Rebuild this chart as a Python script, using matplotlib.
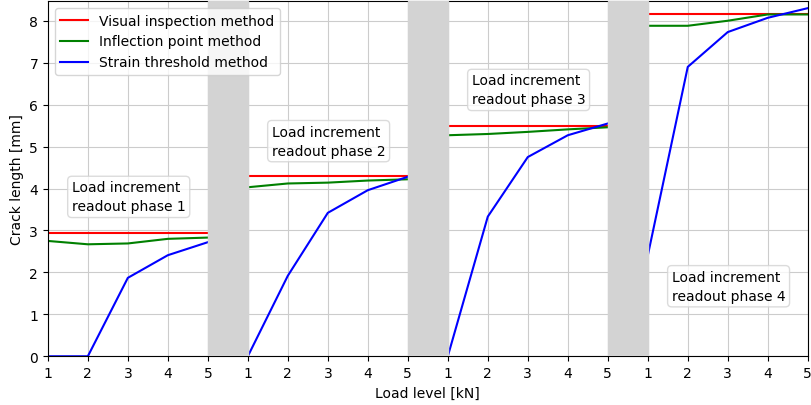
import numpy as np
import matplotlib.pyplot as plt

load_levels = [1, 2, 3, 4, 5]
phases = [1, 2, 3, 4]

# crack length per phase [mm]
visual = [2.93, 4.30, 5.49, 8.17]
inflection = [
    [2.75, 2.67, 2.69, 2.80, 2.83],
    [4.03, 4.12, 4.14, 4.19, 4.22],
    [5.27, 5.30, 5.35, 5.41, 5.46],
    [7.88, 7.88, 8.00, 8.15, 8.15],
]
strain = [
    [0.00, 0.00, 1.87, 2.41, 2.72],
    [0.00, 1.92, 3.42, 3.96, 4.28],
    [0.00, 3.33, 4.75, 5.27, 5.55],
    [2.40, 6.90, 7.73, 8.07, 8.30],
]
label_y = [3.8, 5.13, 6.35, 1.67]

fig, ax = plt.subplots(figsize=(8.11, 4.06), dpi=100)
fig.subplots_adjust(left=0.059, right=0.996, top=0.995, bottom=0.12)

n = len(load_levels)
ticks = []
ticklabels = []
for i, ph in enumerate(phases):
    x = np.arange(n) + i * n
    ax.plot([x[0], x[-1]], [visual[i], visual[i]], color='red',
            label='Visual inspection method' if i == 0 else None)
    ax.plot(x, inflection[i], color='green',
            label='Inflection point method' if i == 0 else None)
    ax.plot(x, strain[i], color='blue',
            label='Strain threshold method' if i == 0 else None)
    if i < len(phases) - 1:
        ax.axvspan(x[-1], x[-1] + 1, color='lightgray', zorder=3)
    ax.text(x[0] + 0.6, label_y[i], 'Load increment\nreadout phase %d' % ph,
            fontsize=10, va='center', ha='left', zorder=4, linespacing=1.45,
            bbox=dict(boxstyle='round', facecolor='white', edgecolor='lightgray', alpha=0.8))
    ticks += list(x)
    ticklabels += [str(v) for v in load_levels]

ax.set_xticks(ticks)
ax.set_xticklabels(ticklabels)
ax.set_xlim(0, len(phases) * n - 1)
ax.set_ylim(0, 8.47)
ax.grid(True, color='#cccccc')
ax.set_xlabel('Load level [kN]')
ax.set_ylabel('Crack length [mm]')
ax.legend(loc='upper left')

fig.savefig('out.png', dpi=100)
